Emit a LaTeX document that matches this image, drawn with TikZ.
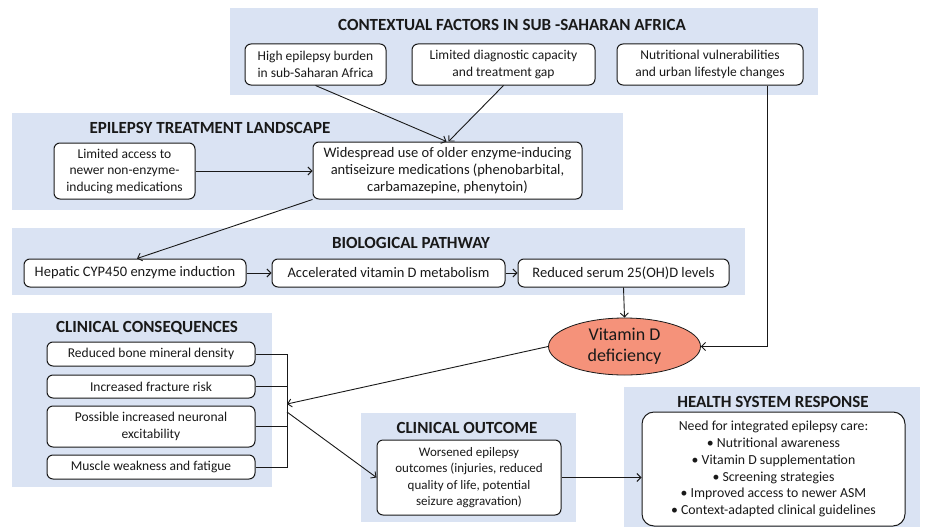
\documentclass[tikz,border=0pt]{standalone}
\usepackage{fontspec}
\setmainfont{Carlito}
\usetikzlibrary{arrows.meta,shapes.geometric,calc}
\definecolor{panelblue}{RGB}{218,227,243}
\definecolor{salmon}{RGB}{245,146,122}
\definecolor{ink}{RGB}{25,25,25}
\tikzset{
  panel/.style={fill=panelblue, draw=none},
  box/.style={draw=ink, line width=1pt, rounded corners=6pt, fill=white, align=center, inner sep=0pt, text=ink, font=\fontsize{13.5}{16.5}\selectfont},
  bigtext/.style={font=\fontsize{14.5}{17}\selectfont},
  smalltext/.style={font=\fontsize{13}{16.3}\selectfont},
  ptitle/.style={font=\fontsize{17}{19}\selectfont\bfseries, text=ink, inner sep=0pt},
  arr/.style={draw=ink, line width=0.9pt, -{Straight Barb[length=4pt,width=8pt]}},
  link/.style={draw=ink, line width=0.9pt},
}
\begin{document}
\begin{tikzpicture}[x=1pt,y=-1pt]
\useasboundingbox (0,0) rectangle (925,527);
% panels
\fill[panel] (230,8) rectangle (818,95);
\fill[panel] (12,113) rectangle (623,210);
\fill[panel] (12,228) rectangle (745,295);
\fill[panel] (12,313) rectangle (272,487);
\fill[panel] (361,413) rectangle (576,522);
\fill[panel] (624,387) rectangle (920,527);
% titles
\node[ptitle] (t1) at (512,25) {CONTEXTUAL FACTORS IN SUB -SAHARAN AFRICA};
\node[ptitle] (t2) at (210,128) {EPILEPSY TREATMENT LANDSCAPE};
\node[ptitle] (t3) at (411,243) {BIOLOGICAL PATHWAY};
\node[ptitle] (t4) at (147,328) {CLINICAL CONSEQUENCES};
\node[ptitle] (t5) at (467,428) {CLINICAL OUTCOME};
\node[ptitle] (t6) at (773,402) {HEALTH SYSTEM RESPONSE};
% contextual boxes
\node[box, minimum width=141pt, minimum height=41pt] (ctx1) at (315.5,64.5) {High epilepsy burden\\in sub-Saharan Africa};
\node[box, minimum width=183pt, minimum height=41pt] (ctx2) at (503.5,64.5) {Limited diagnostic capacity\\and treatment gap};
\node[box, minimum width=186pt, minimum height=41pt] (ctx3) at (710,64.5) {Nutritional vulnerabilities\\and urban lifestyle changes};
% landscape
\node[box, minimum width=141pt, minimum height=56pt] (lim) at (124.5,171) {Limited access to\\newer non-enzyme-\\inducing medications};
\node[box, bigtext, minimum width=269pt, minimum height=57pt] (wide) at (447.5,170.5) {Widespread use of older enzyme-inducing\\antiseizure medications (phenobarbital,\\carbamazepine, phenytoin)};
% biological
\node[box, bigtext, minimum width=222pt, minimum height=28pt] (hep) at (135,273) {Hepatic CYP450 enzyme induction};
\node[box, bigtext, minimum width=233pt, minimum height=28pt] (acc) at (388.5,273) {Accelerated vitamin D metabolism};
\node[box, bigtext, minimum width=211pt, minimum height=28pt] (red) at (623.5,273) {Reduced serum 25(OH)D levels};
% vitamin D
\node[ellipse, draw=ink, line width=0.8pt, fill=salmon, minimum width=152pt, minimum height=57pt, inner sep=0pt, align=center, text=ink, font=\fontsize{18}{21}\selectfont] (vitd) at (624.5,346.5) {Vitamin D\\deficiency};
% clinical consequences
\node[box, minimum width=208pt, minimum height=24pt] (cc1) at (151,354) {Reduced bone mineral density};
\node[box, minimum width=208pt, minimum height=23pt] (cc2) at (151,386.5) {Increased fracture risk};
\node[box, minimum width=208pt, minimum height=41pt] (cc3) at (151,426.5) {Possible increased neuronal\\excitability};
\node[box, minimum width=208pt, minimum height=24pt] (cc4) at (151,467) {Muscle weakness and fatigue};
% outcome
\node[box, smalltext, minimum width=184pt, minimum height=75pt] (out) at (469,477.5) {Worsened epilepsy\\outcomes (injuries, reduced\\quality of life, potential\\seizure aggravation)};
% health system
\node[box, font=\fontsize{13.8}{16.8}\selectfont, minimum width=263pt, minimum height=114pt, rounded corners=12pt] (hs) at (773.5,469) {Need for integrated epilepsy care:\\\textbullet{} Nutritional awareness\\\textbullet{} Vitamin D supplementation\\\textbullet{} Screening strategies\\\textbullet{} Improved access to newer ASM\\\textbullet{} Context-adapted clinical guidelines};
% connectors
\draw[arr] (ctx1.south) -- ([xshift=-1pt]wide.north);
\draw[arr] (ctx2.south) -- ([xshift=1pt]wide.north);
\draw[arr] (lim.east) -- (lim.east -| wide.west);
\draw[arr] (wide.south west) -- ([xshift=2pt]hep.north);
\draw[arr] (hep.east) -- (acc.west);
\draw[arr] (acc.east) -- (red.west);
\draw[arr] (red.south) -- (vitd.north);
\draw[arr] ([xshift=57pt]ctx3.south) |- (vitd.east);
% bracket
\coordinate (bx) at (287,404);
\coordinate (bo) at (287,412);
\draw[link] (cc1.east) -- (cc1.east -| bx) -- (cc4.east -| bx) -- (cc4.east);
\draw[link] (cc2.east) -- (cc2.east -| bx);
\draw[link] (cc3.east) -- (cc3.east -| bx);
\draw[arr] (vitd.west) -- (bx);
\draw[arr] (bo) -- (out.west);
\draw[arr] (out.east) -- (out.east -| hs.west);
\end{tikzpicture}
\end{document}
